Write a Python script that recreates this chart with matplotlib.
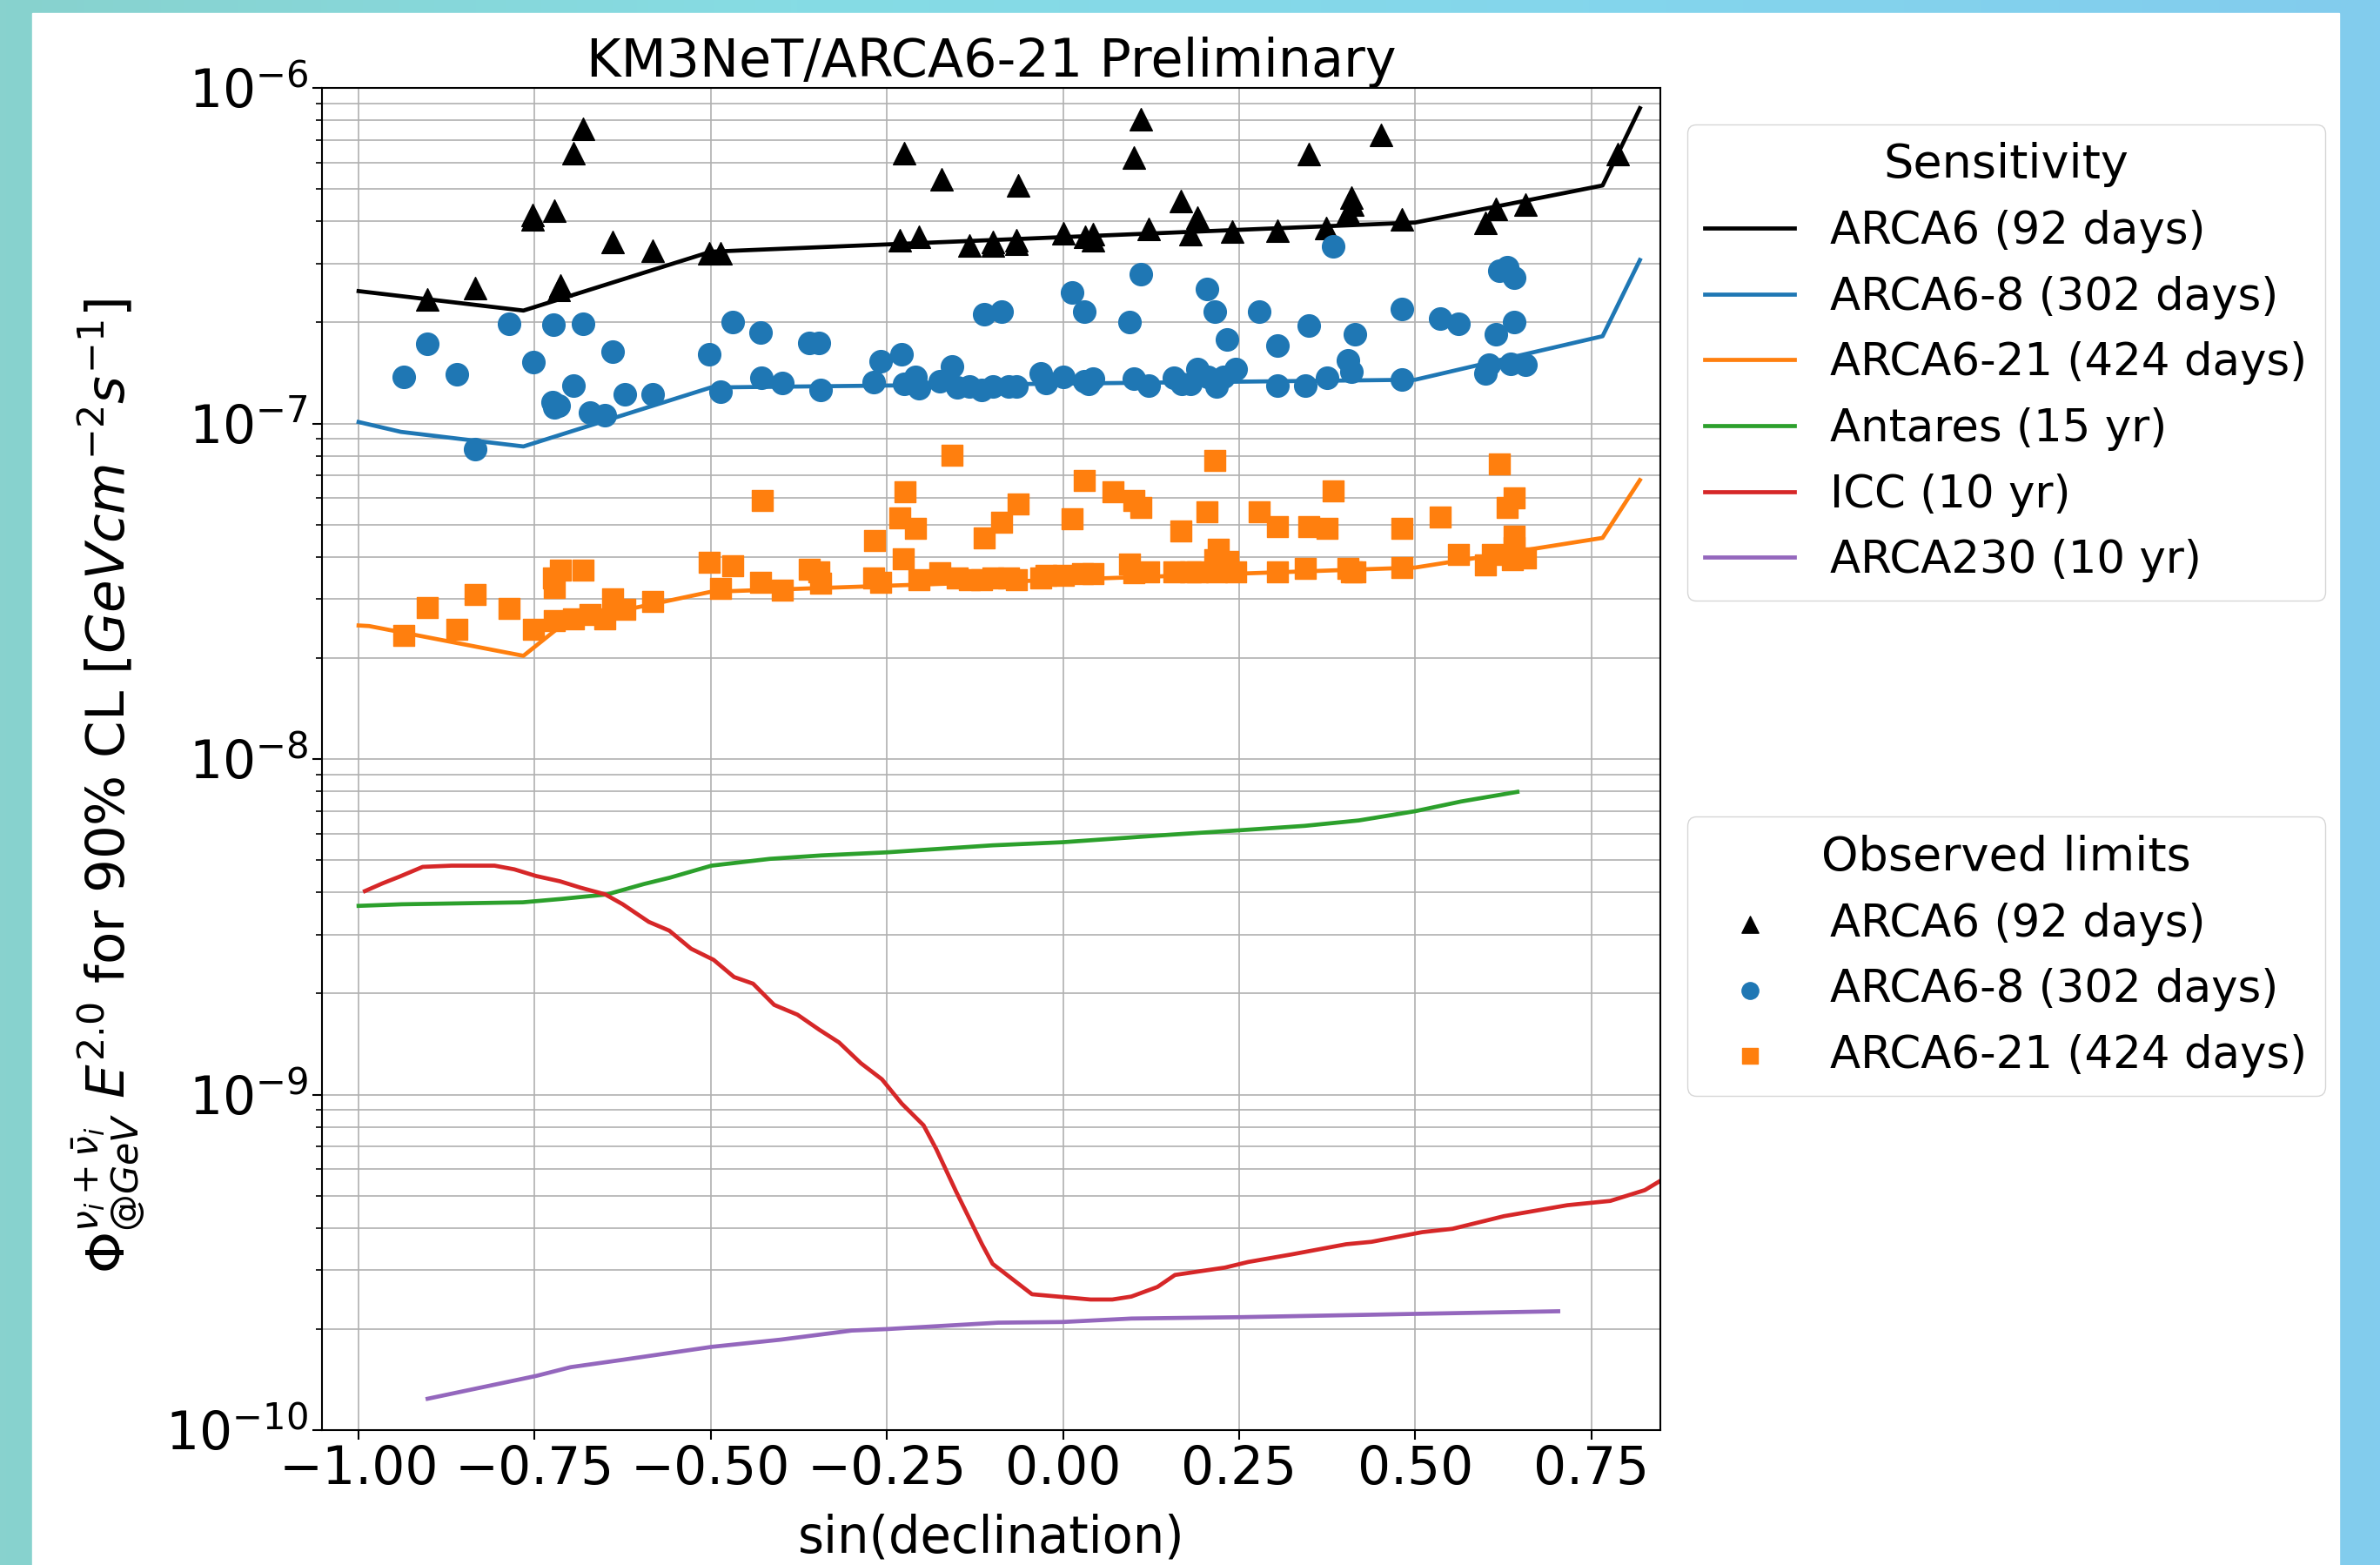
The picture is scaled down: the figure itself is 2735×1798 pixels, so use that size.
"""KM3NeT/ARCA point-source sensitivities and observed limits vs sin(declination)."""

import matplotlib
matplotlib.use("Agg")
import matplotlib.pyplot as plt
from matplotlib.patches import Rectangle
import numpy as np

# --- sensitivity curves ---
arca6_x = [-1.0, -0.766, -0.5, 0.5, 0.766, 0.819]
arca6_sens = [2.48e-7, 2.17e-7, 3.25e-7, 3.97e-7, 5.12e-7, 8.7e-7]

arca68_x = [-1.0, -0.94, -0.766, -0.5, 0.5, 0.766, 0.819]
arca68_sens = [1.01e-7, 9.44e-8, 8.54e-8, 1.28e-7, 1.35e-7, 1.82e-7, 3.07e-7]

arca621_x = [-1.0, -0.985, -0.766, -0.707, -0.5, 0.5, 0.766, 0.819]
arca621_sens = [2.5e-8, 2.49e-8, 2.03e-8, 2.55e-8, 3.15e-8, 3.72e-8, 4.56e-8, 6.78e-8]

antares_x = [-1.0, -0.939, -0.767, -0.711, -0.647, -0.595, -0.558, -0.499, -0.416, -0.343,
             -0.25, -0.1, 0.0, 0.153, 0.25, 0.343, 0.42, 0.5, 0.565, 0.645]
antares_sens = [3.65e-9, 3.69e-9, 3.74e-9, 3.83e-9, 3.95e-9, 4.24e-9, 4.43e-9, 4.81e-9, 5.04e-9, 5.16e-9,
                5.27e-9, 5.53e-9, 5.65e-9, 5.95e-9, 6.13e-9, 6.32e-9, 6.56e-9, 6.99e-9, 7.47e-9, 7.98e-9]

icc_x = [-0.991, -0.966, -0.942, -0.909, -0.868, -0.807, -0.779, -0.748, -0.714, -0.684,
         -0.650, -0.625, -0.588, -0.559, -0.528, -0.496, -0.467, -0.440, -0.410, -0.377,
         -0.346, -0.318, -0.287, -0.257, -0.229, -0.198, -0.180, -0.152, -0.115, -0.100,
         -0.044, 0.039, 0.070, 0.097, 0.134, 0.159, 0.230, 0.263, 0.325, 0.402,
         0.438, 0.510, 0.553, 0.626, 0.716, 0.777, 0.826, 0.870]
icc_sens = [4.04e-9, 4.26e-9, 4.46e-9, 4.77e-9, 4.81e-9, 4.81e-9, 4.69e-9, 4.48e-9, 4.32e-9, 4.13e-9,
            3.95e-9, 3.69e-9, 3.27e-9, 3.08e-9, 2.72e-9, 2.52e-9, 2.24e-9, 2.14e-9, 1.85e-9, 1.73e-9,
            1.56e-9, 1.43e-9, 1.24e-9, 1.11e-9, 9.4e-10, 8.1e-10, 6.88e-10, 5.15e-10, 3.58e-10, 3.13e-10,
            2.54e-10, 2.45e-10, 2.45e-10, 2.50e-10, 2.67e-10, 2.90e-10, 3.05e-10, 3.17e-10, 3.34e-10, 3.58e-10,
            3.64e-10, 3.89e-10, 3.98e-10, 4.34e-10, 4.68e-10, 4.82e-10, 5.19e-10, 5.9e-10]

arca230_x = [-0.902, -0.748, -0.699, -0.625, -0.499, -0.401, -0.300, -0.25, -0.092, 0.0,
             0.097, 0.25, 0.5, 0.703]
arca230_sens = [1.24e-10, 1.45e-10, 1.54e-10, 1.62e-10, 1.77e-10, 1.86e-10, 1.98e-10, 2.0e-10, 2.09e-10, 2.10e-10,
                2.15e-10, 2.17e-10, 2.22e-10, 2.26e-10]

# --- observed limits ---
obs6_x = [-0.902, -0.834, -0.753, -0.753, -0.722, -0.714, -0.716, -0.695, -0.682, -0.639,
          -0.583, -0.502, -0.486, -0.232, -0.226, -0.204, -0.173, -0.133, -0.100, -0.100,
          -0.066, -0.066, -0.064, 0.0, 0.031, 0.043, 0.043, 0.101, 0.110, 0.121,
          0.167, 0.181, 0.191, 0.240, 0.304, 0.349, 0.374, 0.405, 0.410, 0.411,
          0.452, 0.481, 0.600, 0.615, 0.657, 0.787]
obs6_y = [2.34e-7, 2.53e-7, 4.17e-7, 4.05e-7, 4.31e-7, 2.58e-7, 2.50e-7, 6.4e-7, 7.53e-7, 3.48e-7,
          3.27e-7, 3.21e-7, 3.21e-7, 3.52e-7, 6.4e-7, 3.61e-7, 5.33e-7, 3.40e-7, 3.48e-7, 3.40e-7,
          3.52e-7, 3.44e-7, 5.11e-7, 3.68e-7, 3.61e-7, 3.66e-7, 3.52e-7, 6.21e-7, 8.07e-7, 3.80e-7,
          4.61e-7, 3.66e-7, 4.10e-7, 3.73e-7, 3.76e-7, 6.37e-7, 3.83e-7, 4.26e-7, 4.71e-7, 4.50e-7,
          7.25e-7, 4.07e-7, 3.97e-7, 4.35e-7, 4.48e-7, 6.37e-7]

obs68_x = [-0.936, -0.902, -0.861, -0.834, -0.786, -0.752, -0.723, -0.682, -0.725, -0.716,
           -0.722, -0.695, -0.671, -0.650, -0.639, -0.622, -0.583, -0.502, -0.486, -0.469,
           -0.429, -0.428, -0.398, -0.360, -0.347, -0.344, -0.269, -0.259, -0.229, -0.225,
           -0.209, -0.204, -0.175, -0.158, -0.150, -0.133, -0.116, -0.112, -0.087, -0.100,
           -0.077, -0.066, -0.031, -0.024, 0.0, 0.013, 0.030, 0.030, 0.036, 0.043,
           0.094, 0.100, 0.110, 0.121, 0.158, 0.168, 0.181, 0.191, 0.204, 0.206,
           0.215, 0.218, 0.233, 0.228, 0.245, 0.279, 0.305, 0.304, 0.349, 0.344,
           0.375, 0.383, 0.414, 0.404, 0.410, 0.481, 0.481, 0.535, 0.562, 0.600,
           0.605, 0.615, 0.619, 0.630, 0.640, 0.640, 0.636, 0.657]
obs68_y = [1.375e-7, 1.73e-7, 1.40e-7, 8.4e-8, 1.98e-7, 1.52e-7, 1.97e-7, 1.98e-7, 1.16e-7, 1.13e-7,
           1.12e-7, 1.30e-7, 1.08e-7, 1.06e-7, 1.64e-7, 1.22e-7, 1.22e-7, 1.61e-7, 1.24e-7, 2.01e-7,
           1.87e-7, 1.37e-7, 1.32e-7, 1.74e-7, 1.74e-7, 1.26e-7, 1.33e-7, 1.53e-7, 1.61e-7, 1.31e-7,
           1.38e-7, 1.27e-7, 1.34e-7, 1.48e-7, 1.28e-7, 1.29e-7, 1.26e-7, 2.12e-7, 2.16e-7, 1.29e-7,
           1.29e-7, 1.29e-7, 1.41e-7, 1.32e-7, 1.38e-7, 2.45e-7, 2.15e-7, 1.34e-7, 1.31e-7, 1.36e-7,
           2.00e-7, 1.36e-7, 2.78e-7, 1.30e-7, 1.37e-7, 1.31e-7, 1.31e-7, 1.45e-7, 2.51e-7, 1.38e-7,
           2.15e-7, 1.29e-7, 1.78e-7, 1.38e-7, 1.45e-7, 2.15e-7, 1.71e-7, 1.30e-7, 1.96e-7, 1.30e-7,
           1.37e-7, 3.38e-7, 1.84e-7, 1.54e-7, 1.43e-7, 2.19e-7, 1.35e-7, 2.06e-7, 1.98e-7, 1.41e-7,
           1.50e-7, 1.85e-7, 2.85e-7, 2.92e-7, 2.72e-7, 2.00e-7, 1.51e-7, 1.50e-7]

obs621_x = [-0.936, -0.902, -0.861, -0.834, -0.786, -0.752, -0.723, -0.714, -0.722, -0.682,
            -0.722, -0.695, -0.671, -0.650, -0.639, -0.622, -0.583, -0.502, -0.486, -0.469,
            -0.427, -0.429, -0.398, -0.360, -0.347, -0.344, -0.267, -0.269, -0.259, -0.224,
            -0.232, -0.209, -0.227, -0.204, -0.175, -0.158, -0.150, -0.133, -0.116, -0.112,
            -0.087, -0.064, -0.100, -0.077, -0.066, -0.031, -0.024, 0.0, 0.013, 0.030,
            0.028, 0.043, 0.071, 0.101, 0.110, 0.094, 0.100, 0.121, 0.158, 0.167,
            0.181, 0.191, 0.204, 0.216, 0.215, 0.218, 0.220, 0.234, 0.245, 0.279,
            0.305, 0.304, 0.349, 0.344, 0.375, 0.383, 0.405, 0.414, 0.410, 0.481,
            0.481, 0.535, 0.562, 0.600, 0.610, 0.619, 0.640, 0.630, 0.640, 0.640,
            0.638, 0.657]
obs621_y = [2.33e-8, 2.83e-8, 2.43e-8, 3.10e-8, 2.81e-8, 2.43e-8, 3.46e-8, 3.66e-8, 3.25e-8, 3.66e-8,
            2.59e-8, 2.62e-8, 2.69e-8, 2.62e-8, 3.01e-8, 2.79e-8, 2.94e-8, 3.85e-8, 3.22e-8, 3.76e-8,
            5.89e-8, 3.37e-8, 3.19e-8, 3.68e-8, 3.61e-8, 3.35e-8, 4.48e-8, 3.47e-8, 3.37e-8, 6.24e-8,
            5.22e-8, 4.86e-8, 3.94e-8, 3.42e-8, 3.59e-8, 8.05e-8, 3.47e-8, 3.42e-8, 3.42e-8, 4.56e-8,
            5.08e-8, 5.74e-8, 3.47e-8, 3.47e-8, 3.42e-8, 3.47e-8, 3.52e-8, 3.52e-8, 5.19e-8, 6.76e-8,
            3.56e-8, 3.56e-8, 6.24e-8, 5.89e-8, 5.61e-8, 3.82e-8, 3.59e-8, 3.62e-8, 3.61e-8, 4.79e-8,
            3.62e-8, 3.62e-8, 5.46e-8, 7.78e-8, 3.92e-8, 3.62e-8, 4.23e-8, 3.87e-8, 3.62e-8, 5.46e-8,
            4.94e-8, 3.62e-8, 4.94e-8, 3.71e-8, 4.86e-8, 6.31e-8, 3.71e-8, 3.62e-8, 3.62e-8, 4.86e-8,
            3.73e-8, 5.27e-8, 4.07e-8, 3.78e-8, 4.07e-8, 7.57e-8, 6.01e-8, 5.61e-8, 4.62e-8, 4.28e-8,
            3.92e-8, 3.97e-8]

W, H = 2735, 1798
fig = plt.figure(figsize=(W / 100, H / 100), dpi=100)

# slide background: cyan gradient with a white panel
bg = fig.add_axes([0, 0, 1, 1], zorder=-10)
stops = np.array([[136, 210, 206], [134, 220, 228], [132, 214, 236], [130, 204, 238]]) / 255
pos = np.linspace(0, 1, len(stops))
t = np.linspace(0, 1, 400)
grad = np.stack([np.interp(t, pos, stops[:, c]) for c in range(3)], axis=-1)[None, :, :]
bg.imshow(grad, aspect="auto", extent=[0, 1, 0, 1])
bg.add_patch(Rectangle((37 / W, 0), (2688 - 37) / W, (H - 15) / H, color="white"))
bg.set_xlim(0, 1)
bg.set_ylim(0, 1)
bg.axis("off")

ax = fig.add_axes([370 / W, 1 - 1643 / H, (1908 - 370) / W, (1643 - 101) / H])
ax.set_facecolor("white")

lw = 3.4
l1, = ax.plot(arca6_x, arca6_sens, color="black", lw=lw, label="ARCA6 (92 days)")
l2, = ax.plot(arca68_x, arca68_sens, color="tab:blue", lw=lw, label="ARCA6-8 (302 days)")
l3, = ax.plot(arca621_x, arca621_sens, color="tab:orange", lw=lw, label="ARCA6-21 (424 days)")
l4, = ax.plot(antares_x, antares_sens, color="tab:green", lw=lw, label="Antares (15 yr)")
l5, = ax.plot(icc_x, icc_sens, color="tab:red", lw=lw, label="ICC (10 yr)")
l6, = ax.plot(arca230_x, arca230_sens, color="tab:purple", lw=lw, label="ARCA230 (10 yr)")

ms = 18.5 ** 2
s1 = ax.scatter(obs6_x, obs6_y, marker="^", s=ms, color="black", zorder=3, label="ARCA6 (92 days)")
s2 = ax.scatter(obs68_x, obs68_y, marker="o", s=ms, color="tab:blue", zorder=3, label="ARCA6-8 (302 days)")
s3 = ax.scatter(obs621_x, obs621_y, marker="s", s=ms * 0.85, color="tab:orange", zorder=3,
                label="ARCA6-21 (424 days)")

ax.set_yscale("log")
ax.set_xlim(-1.052, 0.848)
ax.set_ylim(1e-10, 1e-6)
ax.set_xticks([-1.0, -0.75, -0.5, -0.25, 0.0, 0.25, 0.5, 0.75])
ax.grid(True, which="both", color="#b0b0b0", lw=1.2)
ax.set_axisbelow(True)
ax.tick_params(which="major", labelsize=43, length=8, width=1.5)
ax.tick_params(which="minor", length=5, width=1.2)
for sp in ax.spines.values():
    sp.set_linewidth(1.5)

ax.set_title("KM3NeT/ARCA6-21 Preliminary", fontsize=43.5)
ax.set_xlabel("sin(declination)", fontsize=41.5, labelpad=15)
ax.set_ylabel(r"$\Phi^{\nu_i+\bar{\nu}_i}_{@GeV}\ E^{2.0}$ for 90% CL [$GeVcm^{-2}s^{-1}$]", fontsize=44)
ax.yaxis.set_label_coords(-0.131, 0.48)

leg1 = ax.legend(handles=[l1, l2, l3, l4, l5, l6], title="Sensitivity", fontsize=37, title_fontsize=39,
                 loc="upper left", bbox_to_anchor=(1.02, 0.973), borderaxespad=0)
ax.add_artist(leg1)
ax.legend(handles=[s1, s2, s3], title="Observed limits", fontsize=37, title_fontsize=39,
          loc="upper left", bbox_to_anchor=(1.02, 0.457), borderaxespad=0, markerscale=0.75)

fig.savefig("out.png", dpi=100)
